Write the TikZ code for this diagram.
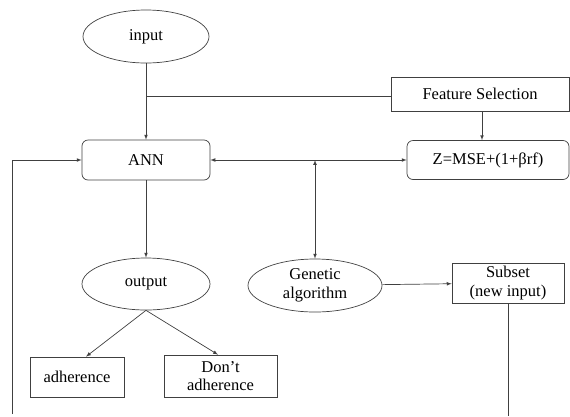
\documentclass[tikz,border=0pt]{standalone}
\usepackage{fontspec}
\setmainfont{Liberation Serif}
\usetikzlibrary{shapes.geometric}
\begin{document}
\begin{tikzpicture}
    [x=1pt,y=-1pt,font=\rmfamily\fontsize{16.5}{18.5}\selectfont,>=latex,
     line/.style={draw=black!75,line width=0.7pt},
     oval/.style={ellipse,line,inner sep=0pt,align=center},
     rbox/.style={rectangle,rounded corners=6pt,line,inner sep=0pt},
     sbox/.style={rectangle,line,inner sep=0pt,align=center}]
    \useasboundingbox (0,0) rectangle (570,416);
    \node[oval,minimum width=126pt,minimum height=53pt](input) at (146,36.5){input};
    \node[sbox,minimum width=178pt,minimum height=34pt](fs) at (480,94){Feature Selection};
    \node[rbox,minimum width=128pt,minimum height=40pt](ann) at (146,160){ANN};
    \node[rbox,minimum width=162pt,minimum height=39pt](z) at (488,160){Z=MSE+(1+βrf)};
    \node[oval,minimum width=128pt,minimum height=52pt](output) at (146,284){output};
    \node[oval,minimum width=134pt,minimum height=53pt](ga) at (315,285.5){Genetic\\algorithm};
    \node[sbox,minimum width=112pt,minimum height=40pt](subset) at (508,283){Subset\\(new input)};
    \node[sbox,minimum width=94pt,minimum height=40pt](adh) at (77,377){adherence};
    \node[sbox,minimum width=113pt,minimum height=42pt](dont) at (220.5,376){Don’t\\adherence};
    \coordinate (br) at (146,96);
    \coordinate (mid) at (315,160);
    \coordinate (lb) at (12,414);
    \coordinate (sb) at (508,416);
    \draw[line,->] (input) -- (ann);
    \draw[line] (br) -- (br -| fs.west);
    \draw[line,->] (fs.south -| 482,0) -- (z.north -| 482,0);
    \draw[line,<->] (ann) -- (z);
    \draw[line,<->] (mid) -- (ga);
    \draw[line,->] (ann) -- (output);
    \draw[line,->] (output.south) -- (adh.north -| 86,0);
    \draw[line,->] (output.south) -- (dont.north -| 218,0);
    \draw[line,->] (ga) -- (subset);
    \draw[line] (subset) -- (sb);
    \draw[line,->] (lb) |- (ann);
\end{tikzpicture}
\end{document}
